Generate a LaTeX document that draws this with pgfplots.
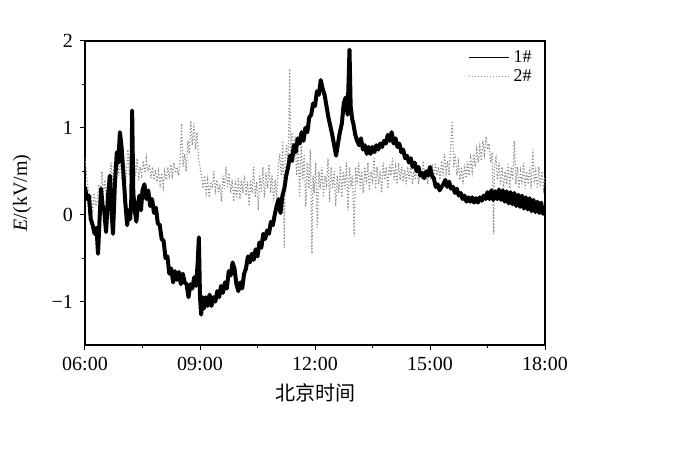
\documentclass[border=0pt]{standalone}
\usepackage{fontspec}
\setmainfont{Liberation Serif}
\newfontfamily\cjk{Noto Sans CJK SC}
\usepackage{pgfplots}
\pgfplotsset{compat=1.18}
\begin{document}
\begin{tikzpicture}
\path[use as bounding box] (-42.5pt,-64.5pt) rectangle (297.5pt,172.5pt);
\begin{axis}[
  at={(0,0)}, anchor=south west, scale only axis,
  width=230pt, height=152pt,
  xmin=6, xmax=18, ymin=-1.5, ymax=2,
  xtick={6,9,12,15,18},
  xticklabels={06:00,09:00,12:00,15:00,18:00},
  ytick={-1,0,1,2},
  yticklabels={−1,0,1,2},
  minor x tick num=1, minor y tick num=1,
  xtick pos=left, ytick pos=left,
  tick align=outside,
  major tick length=2.5pt, minor tick length=1.5pt,
  tick style={black, line width=0.5pt},
  axis line style={line width=0.6pt},
  ticklabel style={font=\fontsize{10}{12}\selectfont},
  xlabel={\cjk 北京时间},
  xlabel style={at={(axis description cs:0.5,-0.158)}, anchor=center, font=\fontsize{10}{12}\selectfont},
  ylabel={\textit{E}/(kV/m)},
  ylabel style={at={(axis description cs:-0.137,0.5)}, anchor=center, font=\fontsize{10}{12}\selectfont},
  legend style={draw=none, fill=none, at={(axis description cs:0.985,0.99)}, anchor=north east,
    font=\fontsize{9}{7}\selectfont, row sep=-2pt, inner sep=1pt},
  legend cell align=left,
  legend image code/.code={\draw[#1] (0pt,0pt) -- (20pt,0pt);},
  clip=true,
]
\addlegendimage{black, line width=0.5pt}
\addlegendentry{1\#}
\addlegendimage{black!45, densely dotted, line width=0.5pt}
\addlegendentry{2\#}
% series 2# (gray)
\addplot[black!45, densely dotted, line width=0.6pt, forget plot] coordinates {
(6.00,0.65)(6.04,0.45)(6.08,0.30)(6.12,0.15)(6.16,0.20)(6.20,0.05)(6.24,0.25)(6.28,0.10)(6.32,0.15)(6.36,0.35)
(6.40,0.20)(6.44,0.50)(6.48,0.25)(6.52,0.40)(6.56,0.15)(6.60,0.45)(6.64,0.30)(6.68,0.60)(6.72,0.35)(6.76,0.55)
(6.80,0.40)(6.84,0.70)(6.88,0.45)(6.92,0.65)(6.96,0.40)(7.00,0.55)(7.04,0.30)(7.08,0.50)(7.12,0.75)(7.16,0.45)
(7.20,0.60)(7.24,0.35)(7.28,0.70)(7.32,0.45)(7.36,0.65)(7.40,0.40)(7.44,0.55)(7.48,0.45)(7.52,0.62)(7.56,0.48)
(7.60,0.65)(7.64,0.50)(7.68,0.58)(7.72,0.42)(7.76,0.55)(7.80,0.40)(7.84,0.52)(7.88,0.38)(7.92,0.50)(7.96,0.35)
(8.00,0.48)(8.04,0.32)(8.08,0.50)(8.12,0.40)(8.16,0.55)(8.20,0.42)(8.24,0.58)(8.28,0.45)(8.32,0.60)(8.36,0.48)
(8.40,0.55)(8.44,0.45)(8.48,0.62)(8.52,1.05)(8.56,0.55)(8.60,0.70)(8.64,0.50)(8.68,0.85)(8.72,0.70)(8.76,1.08)
(8.80,0.80)(8.84,1.05)(8.88,0.75)(8.92,0.95)(8.96,0.65)(9.00,0.55)(9.04,0.45)(9.08,0.30)(9.12,0.45)(9.16,0.25)
(9.20,0.40)(9.24,0.20)(9.28,0.38)(9.32,0.30)(9.36,0.50)(9.40,0.28)(9.44,0.40)(9.48,0.25)(9.52,0.35)(9.56,0.15)
(9.60,0.45)(9.64,0.30)(9.68,0.55)(9.72,0.32)(9.76,0.48)(9.80,0.25)(9.84,0.40)(9.88,0.15)(9.92,0.35)(9.96,0.20)
(10.00,0.42)(10.04,0.18)(10.08,0.40)(10.12,0.25)(10.16,0.45)(10.20,0.22)(10.24,0.38)(10.28,0.10)(10.32,0.40)(10.36,0.25)
(10.40,0.55)(10.44,0.20)(10.48,0.38)(10.52,0.05)(10.56,0.45)(10.60,0.25)(10.64,0.55)(10.68,0.20)(10.72,0.48)(10.76,0.30)
(10.80,0.58)(10.84,0.25)(10.88,0.45)(10.92,0.15)(10.96,0.40)(11.00,0.20)(11.04,0.55)(11.08,0.70)(11.12,0.45)(11.16,0.85)
(11.20,-0.38)(11.22,0.60)(11.26,0.80)(11.30,0.55)(11.34,1.68)(11.37,0.65)(11.40,0.95)(11.44,0.60)(11.48,0.90)(11.52,0.45)
(11.56,0.75)(11.60,0.20)(11.64,0.85)(11.68,0.40)(11.72,0.70)(11.76,0.10)(11.80,0.60)(11.84,0.30)(11.88,0.75)(11.92,-0.45)
(11.95,0.45)(11.98,0.25)(12.02,0.60)(12.06,-0.15)(12.10,0.50)(12.14,0.30)(12.18,0.55)(12.22,0.20)(12.26,0.45)(12.30,0.35)
(12.34,0.65)(12.38,0.15)(12.42,0.55)(12.46,0.30)(12.50,0.50)(12.54,0.10)(12.58,0.45)(12.62,0.25)(12.66,0.55)(12.70,0.20)
(12.74,0.50)(12.78,0.30)(12.82,0.60)(12.86,0.05)(12.90,0.55)(12.94,0.35)(12.98,0.45)(13.02,-0.25)(13.06,0.55)(13.10,0.35)
(13.14,0.60)(13.18,0.30)(13.22,0.50)(13.26,0.25)(13.30,0.55)(13.34,0.35)(13.38,0.60)(13.42,0.28)(13.46,0.50)(13.50,0.40)
(13.54,0.65)(13.58,0.30)(13.62,0.55)(13.66,0.35)(13.70,0.50)(13.74,0.25)(13.78,0.60)(13.82,0.40)(13.86,0.55)(13.90,0.30)
(13.94,0.58)(13.98,0.45)(14.02,0.65)(14.06,0.40)(14.10,0.55)(14.14,0.35)(14.18,0.60)(14.22,0.40)(14.26,0.55)(14.30,0.38)
(14.34,0.52)(14.38,0.35)(14.42,0.55)(14.46,0.40)(14.50,0.58)(14.54,0.35)(14.58,0.50)(14.62,0.40)(14.66,0.60)(14.70,0.35)
(14.74,0.50)(14.78,0.40)(14.82,0.62)(14.86,0.45)(14.90,0.50)(14.94,0.35)(14.98,0.55)(15.02,0.40)(15.06,0.58)(15.10,0.42)
(15.14,0.60)(15.18,0.45)(15.22,0.55)(15.26,0.40)(15.30,0.62)(15.34,0.45)(15.38,0.70)(15.42,0.48)(15.46,0.62)(15.50,0.45)
(15.54,0.80)(15.58,1.08)(15.62,0.55)(15.66,0.70)(15.70,0.45)(15.74,0.60)(15.78,0.40)(15.82,0.55)(15.86,0.35)(15.90,0.58)
(15.94,0.42)(15.98,0.62)(16.02,0.45)(16.06,0.65)(16.10,0.50)(16.14,0.70)(16.18,0.55)(16.22,0.75)(16.26,0.60)(16.30,0.78)
(16.34,0.62)(16.38,0.85)(16.42,0.70)(16.46,0.90)(16.50,0.75)(16.54,0.82)(16.58,0.60)(16.62,0.72)(16.66,-0.22)(16.68,0.55)
(16.72,0.65)(16.76,0.40)(16.80,0.60)(16.84,0.35)(16.88,0.55)(16.92,0.30)(16.96,0.50)(17.00,0.35)(17.04,0.58)(17.08,0.30)
(17.12,0.55)(17.16,0.40)(17.20,0.85)(17.24,0.35)(17.28,0.55)(17.32,0.30)(17.36,0.50)(17.40,0.35)(17.44,0.60)(17.48,0.30)
(17.52,0.50)(17.56,0.35)(17.60,0.55)(17.64,0.30)(17.68,0.75)(17.72,0.35)(17.76,0.50)(17.80,0.30)(17.84,0.55)(17.88,0.32)
(17.92,0.50)(17.96,0.30)(18.00,0.45)
};
% series 1# (black)
\addplot[black, line width=2pt, line join=round, forget plot] coordinates {
(6.00,0.32)(6.05,0.18)(6.10,0.22)(6.15,-0.05)(6.20,-0.12)(6.25,-0.22)(6.30,-0.15)(6.34,-0.45)(6.38,-0.05)(6.42,0.30)
(6.46,0.10)(6.50,0.05)(6.55,-0.20)(6.60,0.22)(6.65,0.45)(6.69,0.05)(6.73,-0.22)(6.78,0.35)(6.83,0.72)(6.87,0.60)
(6.91,0.95)(6.95,0.80)(7.00,0.50)(7.05,0.15)(7.10,-0.12)(7.14,0.05)(7.18,-0.05)(7.21,0.20)(7.23,1.20)(7.26,0.25)
(7.30,0.05)(7.34,-0.08)(7.38,0.12)(7.42,0.22)(7.46,0.05)(7.50,0.28)(7.55,0.35)(7.60,0.18)(7.65,0.28)(7.70,0.10)
(7.75,0.18)(7.80,0.02)(7.85,0.08)(7.90,-0.10)(7.95,-0.12)(8.00,-0.28)(8.05,-0.30)(8.10,-0.50)(8.15,-0.48)(8.20,-0.68)
(8.25,-0.62)(8.30,-0.78)(8.35,-0.65)(8.40,-0.75)(8.45,-0.66)(8.50,-0.80)(8.55,-0.68)(8.60,-0.78)(8.65,-0.80)(8.70,-0.95)
(8.75,-0.80)(8.80,-0.85)(8.85,-0.72)(8.90,-0.82)(8.94,-0.55)(8.97,-0.26)(9.00,-0.95)(9.03,-1.15)(9.07,-0.95)(9.10,-1.08)
(9.15,-0.95)(9.20,-1.05)(9.25,-0.92)(9.30,-1.05)(9.35,-0.95)(9.40,-1.00)(9.45,-0.88)(9.50,-0.95)(9.55,-0.82)(9.60,-0.90)
(9.65,-0.78)(9.70,-0.85)(9.75,-0.65)(9.80,-0.70)(9.85,-0.55)(9.90,-0.62)(9.95,-0.80)(10.00,-0.88)(10.05,-0.78)(10.10,-0.85)
(10.15,-0.68)(10.20,-0.62)(10.25,-0.48)(10.30,-0.55)(10.35,-0.45)(10.40,-0.52)(10.45,-0.40)(10.50,-0.48)(10.55,-0.32)(10.60,-0.38)
(10.65,-0.22)(10.70,-0.28)(10.75,-0.18)(10.80,-0.22)(10.85,-0.08)(10.90,-0.12)(10.95,0.00)(11.00,0.10)(11.05,0.18)(11.10,0.02)
(11.15,0.22)(11.20,0.30)(11.25,0.45)(11.30,0.55)(11.35,0.68)(11.40,0.62)(11.45,0.80)(11.50,0.72)(11.55,0.88)(11.60,0.82)
(11.65,0.95)(11.70,0.85)(11.75,1.00)(11.80,0.95)(11.85,1.12)(11.90,1.15)(11.95,1.28)(12.00,1.25)(12.05,1.42)(12.10,1.38)
(12.15,1.55)(12.20,1.45)(12.25,1.38)(12.30,1.25)(12.35,1.12)(12.40,1.02)(12.45,0.92)(12.50,0.80)(12.55,0.68)(12.60,0.82)
(12.65,0.95)(12.70,1.05)(12.75,1.28)(12.80,1.35)(12.85,1.15)(12.90,1.90)(12.93,1.25)(12.97,1.10)(13.00,1.05)(13.05,0.92)
(13.10,0.85)(13.15,0.80)(13.20,0.88)(13.25,0.75)(13.30,0.80)(13.35,0.70)(13.40,0.78)(13.45,0.70)(13.50,0.78)(13.55,0.72)
(13.60,0.80)(13.65,0.75)(13.70,0.82)(13.75,0.78)(13.80,0.85)(13.85,0.82)(13.90,0.92)(13.95,0.85)(14.00,0.95)(14.05,0.82)
(14.10,0.88)(14.15,0.78)(14.20,0.82)(14.25,0.72)(14.30,0.75)(14.35,0.65)(14.40,0.68)(14.45,0.60)(14.50,0.65)(14.55,0.55)
(14.60,0.60)(14.65,0.50)(14.70,0.55)(14.75,0.45)(14.80,0.48)(14.85,0.42)(14.90,0.50)(14.95,0.45)(15.00,0.55)(15.05,0.45)
(15.10,0.42)(15.15,0.32)(15.20,0.35)(15.25,0.28)(15.30,0.32)(15.35,0.35)(15.40,0.40)(15.45,0.32)(15.50,0.38)(15.55,0.30)
(15.60,0.32)(15.65,0.25)(15.70,0.30)(15.75,0.22)(15.80,0.25)(15.85,0.18)(15.90,0.22)(15.95,0.15)(16.00,0.20)(16.05,0.15)
(16.10,0.20)(16.15,0.14)(16.20,0.19)(16.25,0.14)(16.30,0.20)(16.35,0.16)(16.40,0.22)(16.45,0.18)(16.50,0.26)(16.55,0.18)
(16.60,0.28)(16.65,0.17)(16.70,0.27)(16.75,0.18)(16.80,0.29)(16.85,0.17)(16.90,0.28)(16.95,0.15)(17.00,0.27)(17.05,0.13)
(17.10,0.26)(17.15,0.12)(17.20,0.25)(17.25,0.10)(17.30,0.23)(17.35,0.09)(17.40,0.22)(17.45,0.07)(17.50,0.20)(17.55,0.06)
(17.60,0.19)(17.65,0.04)(17.70,0.17)(17.75,0.03)(17.80,0.15)(17.85,0.02)(17.90,0.14)(17.95,0.01)(18.00,0.07)
};
\end{axis}
\end{tikzpicture}
\end{document}
